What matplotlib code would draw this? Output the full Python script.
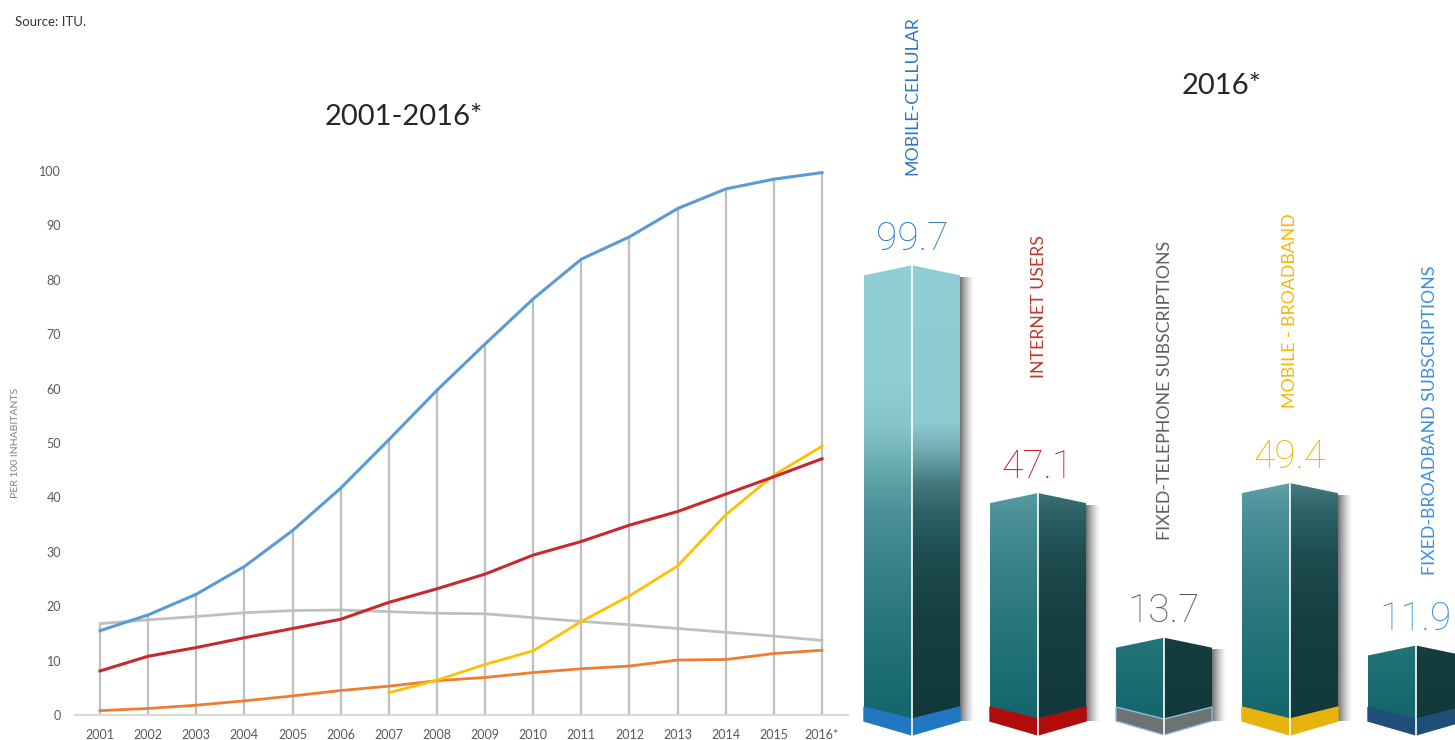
import numpy as np
import matplotlib
matplotlib.use("Agg")
import matplotlib.pyplot as plt
from matplotlib.colors import LinearSegmentedColormap, Normalize
from matplotlib.patches import Polygon
import matplotlib.transforms as mtransforms

# ---------------- data ----------------
years = list(range(2001, 2017))
year_labels = ['2001', '2002', '2003', '2004', '2005', '2006', '2007', '2008',
               '2009', '2010', '2011', '2012', '2013', '2014', '2015', '2016*']
mobile_cellular = [15.5, 18.4, 22.2, 27.3, 33.9, 41.7, 50.6, 59.7,
                   68.2, 76.5, 83.8, 87.9, 93.1, 96.7, 98.5, 99.7]
internet_users = [8.1, 10.8, 12.4, 14.2, 15.9, 17.6, 20.7, 23.2,
                  25.9, 29.4, 31.9, 34.9, 37.4, 40.6, 43.8, 47.1]
fixed_telephone = [16.8, 17.5, 18.1, 18.8, 19.2, 19.3, 19.0, 18.7,
                   18.6, 17.9, 17.2, 16.6, 15.9, 15.2, 14.5, 13.7]
fixed_broadband = [0.8, 1.2, 1.8, 2.6, 3.5, 4.5, 5.3, 6.3,
                   6.9, 7.8, 8.5, 9.0, 10.1, 10.2, 11.3, 11.9]
mobile_broadband_years = list(range(2007, 2017))
mobile_broadband = [4.1, 6.4, 9.3, 11.8, 17.2, 21.9, 27.4, 36.8, 44.1, 49.4]

bar_categories = ['MOBILE-CELLULAR', 'INTERNET USERS', 'FIXED-TELEPHONE SUBSCRIPTIONS',
                  'MOBILE - BROADBAND', 'FIXED-BROADBAND SUBSCRIPTIONS']
bar_values = [99.7, 47.1, 13.7, 49.4, 11.9]
bar_value_labels = ['99.7', '47.1', '13.7', '49.4', '11.9']

# ---------------- styles / layout ----------------
FONT = ['Lato', 'DejaVu Sans']
plt.rcParams['font.family'] = FONT

line_colors = {
    'mc': '#5B9BD5', 'iu': '#C8292E', 'ft': '#BFBFBF', 'fb': '#ED7D31', 'mb': '#FFC000'
}
cat_colors = ['#2E78C2', '#C0392B', '#5F5F5F', '#F7B900', '#3C8FE0']
value_colors = ['#2E7CC6', '#C8232A', '#5A5A5A', '#F2B700', '#3C8DDB']
band_colors = ['#1F78C1', '#B00C0C', '#6D7373', '#E8B30C', '#1F4E79']
band_edges = ['#1F78C1', '#B00C0C', '#8FB8DE', '#E8B30C', '#1F4E79']
label_bottom_frac = [0.764, 0.489, 0.270, 0.449, 0.223]
label_dx = [0.0, 0.01, 0.01, 0.0, 0.11]

W, H = 1455, 740
fig = plt.figure(figsize=(W / 100, H / 100), dpi=100)
fig.patch.set_facecolor('white')

# ---------------- line chart ----------------
ax = fig.add_axes([75 / W, 25 / H, 773 / W, 544 / H])
ax.set_xlim(2000.48, 2016.54)
ax.set_ylim(0, 100)

all_series = [mobile_cellular, internet_users, fixed_telephone, fixed_broadband]
tops = []
for i, y in enumerate(years):
    vals = [s[i] for s in all_series]
    if y in mobile_broadband_years:
        vals.append(mobile_broadband[mobile_broadband_years.index(y)])
    tops.append(max(vals))
ax.vlines(years, 0, tops, color='#BFBFBF', lw=1.6, zorder=1)

ax.plot(years, fixed_telephone, color=line_colors['ft'], lw=2.0, zorder=3, clip_on=False)
ax.plot(years, fixed_broadband, color=line_colors['fb'], lw=2.0, zorder=3, clip_on=False)
ax.plot(mobile_broadband_years, mobile_broadband, color=line_colors['mb'], lw=2.0, zorder=4, clip_on=False)
ax.plot(years, internet_users, color=line_colors['iu'], lw=2.2, zorder=4, clip_on=False)
ax.plot(years, mobile_cellular, color=line_colors['mc'], lw=2.2, zorder=5, clip_on=False)

for s in ['top', 'right', 'left']:
    ax.spines[s].set_visible(False)
ax.spines['bottom'].set_color('#D9D9D9')
ax.spines['bottom'].set_linewidth(1.5)
ax.set_yticks(range(0, 101, 10))
ax.set_xticks(years)
ax.set_xticklabels(year_labels)
ax.tick_params(axis='y', length=0, pad=10, labelsize=9, labelcolor='#595959')
ax.tick_params(axis='x', length=0, pad=10, labelsize=9, labelcolor='#595959')
ax.set_ylabel('PER 100 INHABITANTS', fontsize=7.5, color='#7F7F7F', labelpad=14)
ax.set_facecolor('none')

fig.text(15 / W, 1 - 22 / H, 'Source: ITU.', fontsize=9.5, color='#333333',
         ha='left', va='center')
fig.text(404 / W, 1 - 117 / H, '2001-2016*', fontsize=21, color='#262626',
         ha='center', va='center')
fig.text(1222 / W, 1 - 86 / H, '2016*', fontsize=21, color='#262626',
         ha='center', va='center')

# ---------------- 3D-like bars ----------------
bx = fig.add_axes([850 / W, 0, 605 / W, 1])
bx.set_axis_off()

px_per_unit_x = 126.0
px_per_unit_y = 4.33
w = 48 / px_per_unit_x
peak = 10 / px_per_unit_y
band_top_dip = 12 / px_per_unit_y
band_edge_bot = 14 / px_per_unit_y
band_center_bot = 28 / px_per_unit_y

vmin, vmax = -8.0, 110.0
def stops(pairs):
    return [((v - vmin) / (vmax - vmin), c) for v, c in pairs]

left_cmap = LinearSegmentedColormap.from_list('left', stops([
    (-8, '#14646A'), (0, '#17686E'), (15, '#237378'), (30, '#367F85'),
    (45, '#4C9197'), (55, '#66A9AF'), (65, '#86C4CB'), (75, '#8FCDD4'), (110, '#90CFD6')]))
right_cmap = LinearSegmentedColormap.from_list('right', stops([
    (-8, '#113739'), (0, '#123A3D'), (20, '#163F42'), (35, '#1E4D50'),
    (45, '#2C6266'), (52, '#467C80'), (60, '#75B0B6'), (66, '#8ECCD3'), (110, '#8FCED5')]))
norm = Normalize(vmin, vmax)

def gradient_face(poly, cmap, x0, x1, y0, y1, z):
    grad = np.linspace(y0, y1, 400).reshape(-1, 1)
    im = bx.imshow(grad, cmap=cmap, norm=norm, extent=[x0, x1, y0, y1],
                   origin='lower', aspect='auto', zorder=z, interpolation='bilinear')
    patch = Polygon(poly, closed=True, facecolor='none', edgecolor='none')
    bx.add_patch(patch)
    im.set_clip_path(patch)

trans = mtransforms.blended_transform_factory(bx.transData, bx.transAxes)
for i, v in enumerate(bar_values):
    c = i
    # soft shadow on the right side
    sw = 14 / px_per_unit_x
    alpha = np.linspace(0.7, 0.0, 64) ** 1.4
    sh = np.zeros((1, 64, 4))
    sh[0, :, 3] = alpha
    bx.imshow(sh, extent=[c + w - 0.01, c + w + sw, -band_edge_bot, v - 0.5],
              origin='lower', aspect='auto', zorder=1, interpolation='bilinear')
    # left face
    lpoly = [(c - w, 0), (c, -band_top_dip), (c, v + peak), (c - w, v)]
    gradient_face(lpoly, left_cmap, c - w, c, -band_top_dip, v + peak, 2)
    # right face
    rpoly = [(c, -band_top_dip), (c + w, 0), (c + w, v), (c, v + peak)]
    gradient_face(rpoly, right_cmap, c, c + w, -band_top_dip, v + peak, 2)
    # base band
    band = Polygon([(c - w, 0), (c, -band_top_dip), (c + w, 0),
                    (c + w, -band_edge_bot), (c, -band_center_bot), (c - w, -band_edge_bot)],
                   closed=True, facecolor=band_colors[i], edgecolor=band_edges[i],
                   lw=1.0, zorder=3)
    bx.add_patch(band)
    # white divider
    bx.plot([c, c], [-band_center_bot, v + peak], color='white', lw=1.2, zorder=4)
    # value label
    bx.annotate(bar_value_labels[i], (c, v + peak), xytext=(0, 11),
                textcoords='offset points', ha='center', va='baseline',
                fontsize=28, color=value_colors[i], fontweight='light',
                family=['Roboto', 'Lato', 'DejaVu Sans'], zorder=5)
    # category label
    bx.text(c + label_dx[i], label_bottom_frac[i], bar_categories[i], transform=trans,
            rotation=90, ha='center', va='bottom', fontsize=12.8,
            color=cat_colors[i], zorder=5)

bx.set_xlim(-62 / px_per_unit_x, (605 - 62) / px_per_unit_x)
bx.set_ylim(-(740 - 707) / px_per_unit_y, 707 / px_per_unit_y)

fig.savefig('out.png', dpi=100, facecolor='white')
